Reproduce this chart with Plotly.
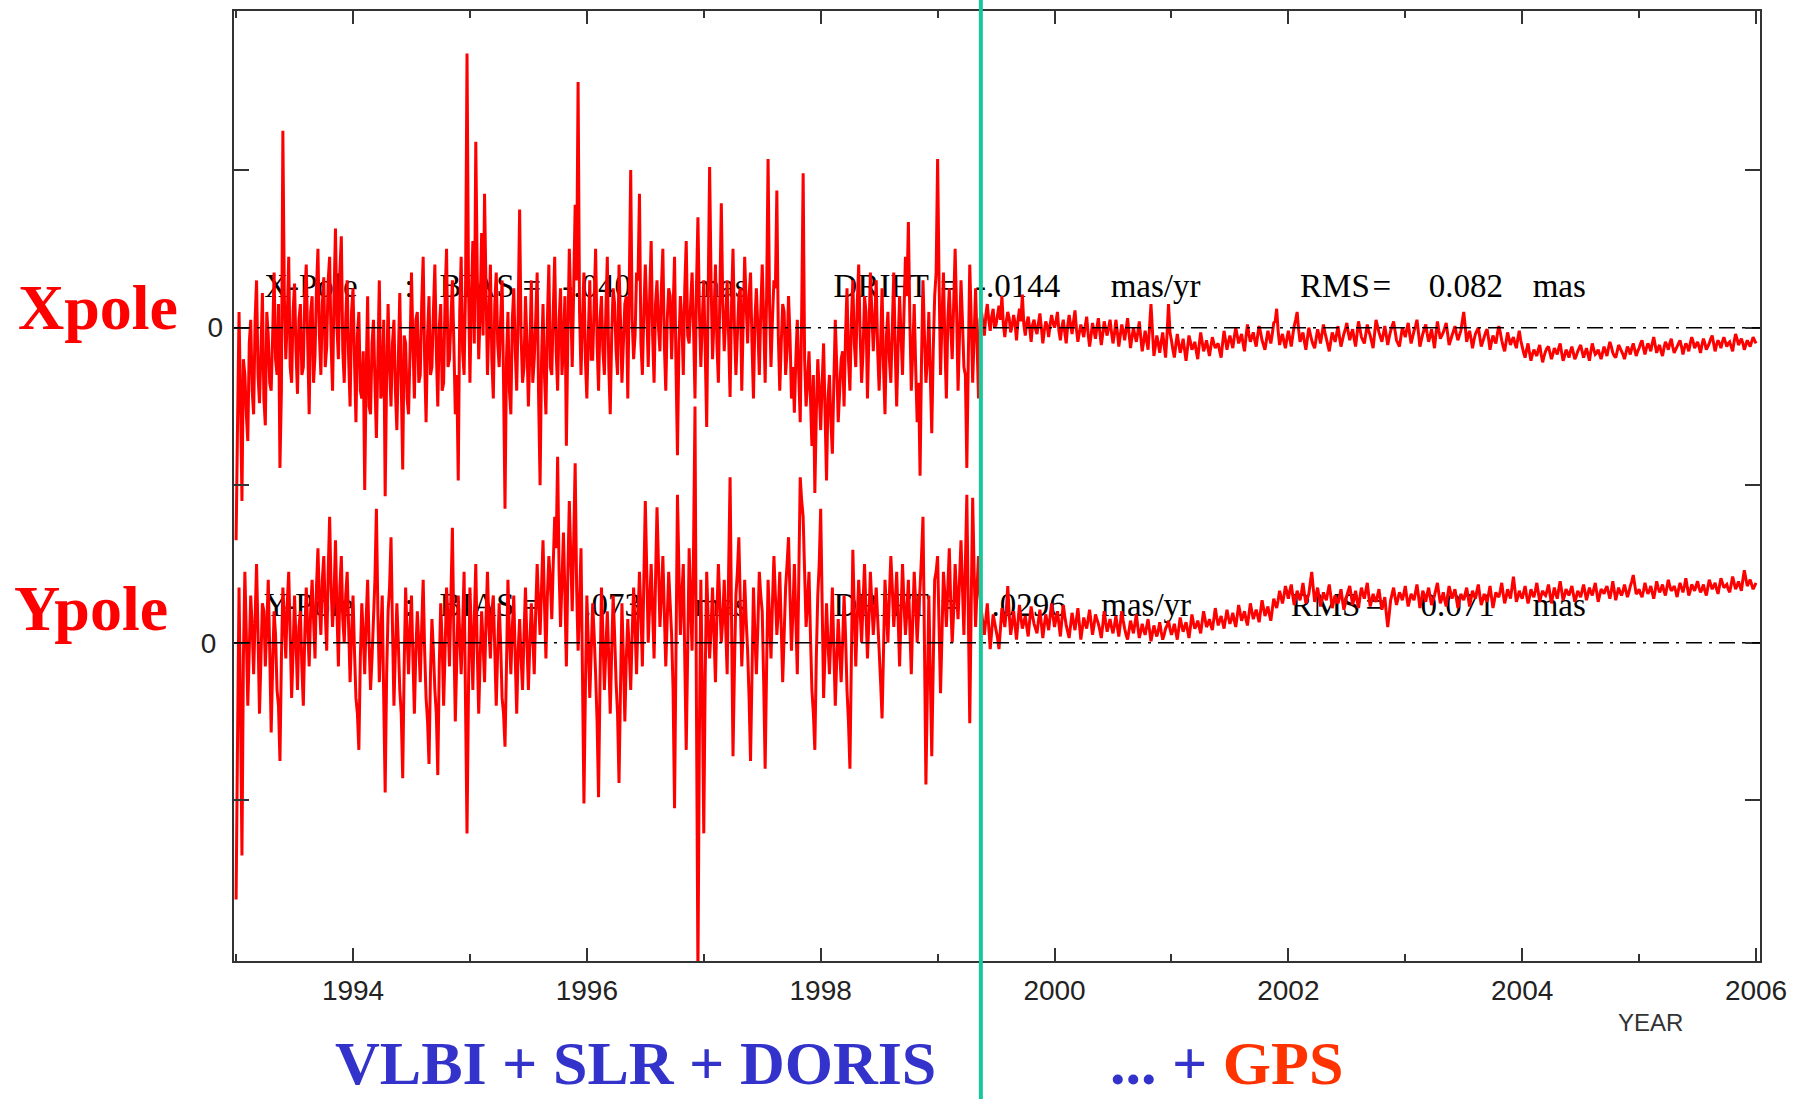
import plotly.graph_objects as go

# Pole residuals (mas). Main samples every 0.025 yr starting 1993.0, with an
# extra sample half-way between consecutive main samples.
T0 = 1993.0
DT = 0.025
GPS_START = 1999.37          # GPS enters the combination

# ---- X pole ---------------------------------------------------------------
x_pole_early = [  # 1993.000 - 1999.350 : VLBI + SLR + DORIS
    -1.35, 0.10, -1.10, -0.30, -0.72, 0.05, -0.55, 0.30, -0.48, 0.22, -0.62, -0.05, -0.40, 0.35, -0.30, -0.89, 1.25, -0.20, 0.45, -0.35,
    0.28, -0.42, 0.15, -0.25, 0.40, -0.55, 0.20, -0.18, 0.50, -0.30, 0.32, -0.12, 0.45, -0.40, 0.63, -0.20, 0.58, -0.35, 0.30, -0.50,
    0.25, -0.60, 0.10, -0.45, -1.03, 0.20, -0.55, 0.05, -0.70, 0.30, -0.40, -1.07, 0.15, -0.50, 0.05, -0.65, 0.22, -0.90, -0.10, -0.55,
    0.35, -0.45, 0.10, -0.30, 0.45, -0.60, 0.20, -0.25, 0.40, -0.50, 0.15, -0.35, 0.50, -0.20, 0.30, -0.55, -0.97, 0.45, -0.30, 1.74,
    -0.35, 0.55, 1.18, -0.20, 0.60, 0.85, -0.30, 0.40, -0.45, 0.35, -0.25, 0.30, -1.15, 0.10, -0.55, 0.25, -0.40, 0.75, -0.35, 0.20,
    -0.50, 0.30, -0.20, 0.35, -1.00, 0.15, -0.55, 0.40, -0.30, 0.45, -0.40, 0.25, -0.10, -0.75, 0.50, -0.25, 0.78, 1.56, -0.30, 0.35,
    -0.45, 0.30, -0.20, 0.50, -0.40, 0.20, -0.30, 0.45, -0.55, 0.25, -0.15, 0.40, -0.35, 0.15, -0.45, 1.00, -0.20, 0.35, 0.85, -0.30,
    0.40, -0.25, 0.55, -0.35, 0.30, -0.15, 0.50, -0.40, 0.25, -0.20, 0.45, -0.81, 0.20, -0.30, 0.55, -0.10, 0.35, -0.45, 0.70, -0.25,
    0.30, -0.63, 1.02, -0.20, 0.40, -0.35, 0.79, -0.15, 0.30, -0.44, 0.50, -0.30, 0.20, -0.40, 0.45, -0.10, 0.35, -0.45, 0.25, -0.30,
    0.40, -0.35, 1.07, -0.25, 0.30, 0.87, -0.40, 0.15, -0.30, 0.20, -0.45, -0.54, 0.05, -0.60, 0.98, -0.50, -0.15, -0.75, -1.05, -0.20,
    -0.65, -0.10, -0.97, -0.30, -0.80, 0.05, -0.60, -0.20, -0.50, 0.25, -0.40, 0.30, -0.25, 0.40, -0.35, 0.20, -0.45, 0.35, -0.15, 0.30,
    -0.40, 0.25, -0.55, 0.10, -0.35, 0.35, -0.50, 0.20, -0.30, 0.45, 0.67, -0.40, 0.15, -0.60, -0.94, 0.30, -0.35, 0.10, -0.67, 0.20,
    1.07, -0.30, 0.35, -0.45, 0.25, -0.20, 0.50, -0.40, 0.30, -0.25, -0.89, 0.40, -0.35, 0.25, -0.45,
]
x_pole_early_mid = [  # 1993.0125 - 1999.3625
    -0.60, -0.45, -0.20, -0.55, -0.10, -0.40, 0.05, -0.30, -0.15, -0.45, 0.10, -0.35, -0.05, -0.20, 0.15, -0.40, 0.20, 0.05, -0.25, 0.10,
    -0.15, 0.05, -0.30, 0.20, -0.10, 0.10, -0.35, 0.25, -0.05, 0.15, -0.25, 0.30, -0.10, 0.20, 0.00, 0.35, -0.15, 0.05, -0.20, 0.10,
    -0.20, -0.05, -0.40, -0.15, -0.30, -0.50, -0.10, -0.35, -0.20, -0.45, 0.05, -0.30, -0.25, -0.10, -0.40, -0.20, -0.35, -0.05, -0.45, -0.15,
    -0.10, 0.05, -0.35, 0.15, -0.20, -0.05, -0.30, 0.10, -0.15, 0.00, -0.40, 0.20, -0.25, 0.05, -0.10, -0.30, 0.10, -0.15, 0.25, 0.30,
    0.20, -0.10, 0.35, 0.10, -0.05, 0.25, 0.05, -0.20, 0.15, -0.10, 0.05, -0.35, -0.20, -0.40, 0.05, -0.15, 0.10, -0.05, -0.25, -0.10,
    -0.15, -0.35, 0.05, -0.45, -0.20, -0.30, 0.05, -0.25, 0.10, -0.15, 0.05, -0.30, 0.20, -0.05, 0.15, 0.25, 0.30, 0.10, 0.05, -0.20,
    -0.05, -0.20, 0.15, -0.10, 0.05, -0.15, 0.10, -0.25, -0.05, 0.15, -0.30, 0.05, -0.10, 0.20, 0.25, 0.05, -0.05, 0.30, -0.10, 0.10,
    0.10, 0.20, -0.05, 0.15, 0.00, 0.25, -0.10, 0.05, 0.20, 0.10, -0.25, -0.10, 0.05, 0.25, -0.05, 0.15, 0.00, 0.25, 0.10, 0.05,
    -0.15, 0.20, 0.30, 0.05, -0.10, 0.20, 0.15, 0.05, -0.05, 0.15, 0.00, -0.05, 0.25, 0.05, 0.15, 0.20, -0.10, 0.05, 0.00, 0.10,
    0.05, 0.20, 0.15, 0.05, 0.25, -0.05, -0.10, 0.10, -0.15, -0.05, -0.25, -0.20, -0.30, 0.10, -0.20, -0.35, -0.45, -0.30, -0.55, -0.40,
    -0.35, -0.55, -0.45, -0.60, -0.35, -0.25, -0.40, -0.15, -0.05, -0.20, 0.05, -0.10, 0.15, -0.05, -0.15, 0.10, -0.05, 0.10, 0.05, -0.15,
    -0.10, -0.25, -0.05, -0.20, 0.00, -0.15, -0.10, -0.05, 0.10, 0.20, 0.05, -0.15, -0.25, -0.35, -0.20, -0.05, -0.20, -0.30, -0.15, 0.35,
    0.30, 0.05, -0.10, 0.05, 0.00, 0.15, 0.10, -0.05, 0.05, -0.30, -0.20, 0.05, -0.05, -0.10, 0.05,
]
x_pole_gps = [  # 1999.375 - 2006.000 : ... + GPS
    0.10, -0.05, 0.15, -0.02, 0.12,
    0.02, 0.14, 0.20, -0.06, 0.10, -0.03, 0.08, -0.08, 0.12, 0.21, -0.05, 0.07, -0.09, 0.05, -0.04, 0.09, -0.10, 0.04, -0.06, 0.08,
    0.00, 0.10, -0.08, 0.05, -0.10, 0.08, -0.04, 0.11, -0.09, 0.02, -0.06, 0.07, -0.12, 0.03, -0.07, 0.06, -0.11, 0.04, -0.05, 0.05,
    -0.10, 0.05, -0.12, 0.02, -0.08, 0.06, -0.13, 0.00, -0.09, 0.04, -0.15, -0.02, -0.14, 0.15, -0.18, -0.05, -0.16, -0.03, -0.19, 0.15,
    -0.08, -0.19, -0.04, -0.16, -0.07, -0.21, -0.05, -0.14, -0.09, -0.20, -0.03, -0.15, -0.08, -0.18, -0.06, -0.13, -0.10, -0.19, -0.02, -0.14,
    -0.05, -0.13, 0.00, -0.10, -0.04, -0.15, 0.02, -0.09, -0.03, -0.12, 0.01, -0.08, -0.14, -0.02, -0.10, 0.03, 0.12, -0.11, -0.04, -0.13,
    -0.02, -0.12, 0.01, 0.10, -0.09, -0.03, -0.14, 0.00, -0.08, -0.13, -0.01, -0.10, 0.02, -0.07, -0.15, -0.03, -0.09, 0.01, -0.12, -0.04,
    0.03, -0.08, -0.01, -0.12, 0.04, -0.06, -0.10, 0.02, -0.05, -0.13, 0.05, -0.03, -0.09, 0.01, -0.11, -0.02, 0.04, -0.08, -0.12, 0.00,
    -0.06, 0.03, -0.10, -0.02, 0.05, -0.12, -0.04, 0.02, -0.09, -0.01, -0.13, 0.04, -0.07, -0.03, 0.03, -0.11, -0.05, 0.01, -0.08, -0.02,
    0.10, -0.09, -0.02, -0.13, -0.04, 0.00, -0.12, -0.06, -0.01, -0.14, -0.05, -0.10, 0.01, -0.08, -0.15, -0.03, -0.11, -0.06, -0.13, -0.02,
    -0.12, -0.19, -0.10, -0.21, -0.14, -0.18, -0.11, -0.22, -0.15, -0.12, -0.20, -0.13, -0.17, -0.10, -0.21, -0.14, -0.19, -0.12, -0.20, -0.15,
    -0.11, -0.19, -0.13, -0.21, -0.10, -0.17, -0.14, -0.20, -0.12, -0.18, -0.09, -0.16, -0.19, -0.11, -0.15, -0.20, -0.12, -0.17, -0.10, -0.18,
    -0.13, -0.08, -0.17, -0.10, -0.15, -0.06, -0.16, -0.11, -0.18, -0.09, -0.14, -0.07, -0.16, -0.12, -0.08, -0.17, -0.10, -0.15, -0.06, -0.13,
    -0.09, -0.16, -0.07, -0.14, -0.10, -0.05, -0.15, -0.08, -0.13, -0.06, -0.12, -0.09, -0.15, -0.04, -0.11, -0.07, -0.14, -0.08, -0.12, -0.06,
    -0.10,
]
x_pole_gps_mid = [  # 1999.3875 - 2005.9875
    0.03, 0.08, 0.05, 0.07, 0.00,
    0.08, 0.05, 0.02, 0.04, 0.06, 0.01, 0.03, 0.05, 0.04, 0.02, 0.03, 0.00, 0.02, -0.01, 0.03, 0.00, -0.02, 0.01, 0.02, 0.03,
    0.04, -0.02, 0.00, -0.03, 0.01, 0.02, 0.04, -0.01, -0.03, -0.02, 0.01, -0.04, -0.05, -0.02, 0.00, -0.03, -0.04, -0.01, 0.00, -0.03,
    -0.04, -0.03, -0.05, -0.02, -0.01, -0.04, -0.06, -0.05, -0.03, -0.06, -0.09, -0.08, 0.00, -0.02, -0.12, -0.10, -0.09, -0.11, -0.04, -0.03,
    -0.14, -0.11, -0.10, -0.12, -0.14, -0.13, -0.09, -0.12, -0.15, -0.11, -0.09, -0.12, -0.13, -0.12, -0.10, -0.11, -0.15, -0.10, -0.08, -0.09,
    -0.09, -0.06, -0.05, -0.07, -0.10, -0.06, -0.04, -0.06, -0.08, -0.05, -0.03, -0.11, -0.08, -0.06, -0.04, 0.04, -0.02, -0.07, -0.09, -0.07,
    -0.07, -0.05, 0.05, -0.01, -0.06, -0.09, -0.07, -0.04, -0.11, -0.07, -0.05, -0.04, -0.03, -0.11, -0.09, -0.06, -0.04, -0.06, -0.08, -0.01,
    -0.03, -0.04, -0.07, -0.04, -0.01, -0.08, -0.04, -0.02, -0.09, -0.04, 0.01, -0.06, -0.04, -0.05, -0.06, 0.01, -0.02, -0.10, -0.06, -0.03,
    -0.01, -0.04, -0.06, 0.01, -0.03, -0.08, -0.01, -0.04, -0.05, -0.07, -0.04, -0.02, -0.05, 0.00, -0.04, -0.08, -0.02, -0.04, -0.05, 0.04,
    0.01, -0.05, -0.07, -0.08, -0.02, -0.06, -0.09, -0.03, -0.07, -0.09, -0.08, -0.04, -0.03, -0.12, -0.09, -0.07, -0.08, -0.10, -0.07, -0.08,
    -0.16, -0.14, -0.16, -0.17, -0.16, -0.14, -0.17, -0.18, -0.13, -0.16, -0.17, -0.15, -0.13, -0.16, -0.18, -0.16, -0.15, -0.16, -0.18, -0.13,
    -0.15, -0.16, -0.17, -0.15, -0.14, -0.16, -0.17, -0.16, -0.15, -0.13, -0.12, -0.18, -0.15, -0.13, -0.17, -0.16, -0.14, -0.13, -0.14, -0.15,
    -0.10, -0.13, -0.13, -0.12, -0.10, -0.11, -0.13, -0.15, -0.13, -0.11, -0.10, -0.12, -0.14, -0.10, -0.12, -0.13, -0.12, -0.10, -0.09, -0.11,
    -0.12, -0.11, -0.10, -0.12, -0.07, -0.10, -0.11, -0.10, -0.09, -0.09, -0.10, -0.12, -0.09, -0.07, -0.09, -0.10, -0.11, -0.10, -0.09, -0.08,
]

# ---- Y pole ---------------------------------------------------------------
y_pole_early = [  # 1993.000 - 1999.350
    -1.63, 0.35, -1.35, 0.45, -0.40, 0.30, -0.20, 0.50, -0.45, 0.25, -0.15, 0.40, -0.57, 0.20, -0.30, -0.75, 0.35, -0.10, 0.45, -0.35,
    0.30, -0.30, 0.20, -0.40, 0.35, -0.15, 0.40, -0.10, 0.60, 0.05, 0.55, -0.05, 0.80, 0.10, 0.65, -0.15, 0.55, 0.00, 0.45, -0.25,
    0.30, -0.35, -0.68, 0.25, -0.20, 0.40, -0.30, 0.15, 0.85, -0.25, 0.30, -0.95, 0.20, 0.67, -0.40, 0.25, -0.30, -0.86, 0.35, -0.20,
    0.30, -0.45, 0.20, -0.25, 0.40, -0.35, -0.77, 0.15, -0.30, -0.84, 0.25, -0.40, 0.35, -0.15, 0.73, -0.50, 0.30, -0.20, 0.45, -1.21,
    0.35, -0.30, 0.50, -0.45, 0.20, -0.25, 0.45, -0.10, 0.30, -0.40, 0.25, -0.35, -0.66, 0.40, -0.20, 0.30, -0.45, 0.15, -0.30, 0.35,
    -0.30, 0.25, -0.20, 0.50, 0.05, 0.65, -0.10, 0.55, 0.15, 0.80, 1.18, 0.10, 0.70, -0.15, 0.90, 0.20, 1.14, -0.05, 0.60, -1.02,
    0.30, -0.35, 0.25, -0.20, -0.98, 0.35, -0.30, 0.20, -0.45, 0.30, -0.25, -0.89, 0.25, -0.50, 0.15, -0.30, 0.35, -0.20, 0.45, -0.15,
    0.90, 0.00, 0.50, -0.10, 0.86, 0.10, 0.55, -0.15, 0.45, 0.05, -1.05, 0.94, 0.05, 0.50, -0.68, 0.60, -0.05, 1.50, -2.10, 0.40,
    -1.21, 0.45, -0.10, 0.35, -0.25, 0.50, 0.00, 0.40, -0.20, 1.05, -0.72, 0.30, 0.67, -0.15, 0.40, -0.05, -0.75, 0.35, -0.20, 0.45,
    0.20, -0.80, 0.40, -0.10, 0.55, 0.05, 0.45, -0.25, 0.35, 0.67, -0.05, 0.50, -0.20, 1.05, 0.80, 0.10, 0.45, -0.30, -0.68, 0.30,
    0.85, -0.35, 0.25, -0.20, 0.35, -0.40, 0.15, -0.25, 0.30, -0.30, -0.80, 0.59, -0.15, 0.40, 0.00, 0.50, -0.10, 0.45, 0.05, 0.35,
    -0.05, -0.48, 0.40, 0.00, 0.55, 0.10, 0.45, -0.15, 0.50, 0.05, 0.40, -0.20, 0.45, 0.00, 0.35, 0.80, -0.90, 0.30, -0.72, 0.40,
    0.55, -0.32, 0.45, 0.10, 0.60, 0.00, 0.50, 0.15, 0.65, 0.05, 0.94, -0.51, 0.92, 0.10, 0.55,
]
y_pole_early_mid = [  # 1993.0125 - 1999.3625
    -0.60, -0.40, -0.10, 0.05, -0.05, 0.10, 0.15, 0.05, -0.10, 0.20, 0.10, -0.05, -0.15, 0.05, -0.40, -0.10, 0.15, 0.25, 0.05, -0.05,
    0.00, 0.10, -0.15, 0.05, 0.10, 0.20, 0.15, 0.35, 0.25, 0.40, 0.20, 0.45, 0.35, 0.30, 0.20, 0.35, 0.15, 0.30, 0.10, 0.05,
    -0.05, -0.45, -0.10, 0.05, 0.15, 0.00, -0.10, 0.40, 0.20, 0.05, -0.35, -0.20, 0.35, 0.10, -0.05, 0.00, -0.45, -0.15, 0.05, 0.10,
    -0.10, -0.05, 0.00, 0.10, -0.05, -0.50, -0.20, -0.05, -0.45, -0.15, 0.00, -0.05, 0.15, 0.30, 0.05, -0.10, 0.05, 0.10, -0.40, -0.30,
    0.05, 0.15, -0.05, -0.10, 0.00, 0.15, 0.10, 0.20, -0.05, -0.05, 0.00, -0.45, -0.15, 0.05, 0.10, -0.10, -0.05, -0.10, 0.05, 0.00,
    0.00, 0.05, 0.20, 0.25, 0.35, 0.25, 0.30, 0.40, 0.50, 0.60, 0.45, 0.40, 0.30, 0.45, 0.55, 0.65, 0.35, 0.25, -0.20, -0.30,
    0.00, -0.05, 0.05, -0.50, -0.25, 0.05, -0.05, -0.10, -0.05, 0.05, -0.45, -0.30, -0.10, -0.10, -0.05, 0.05, 0.10, 0.15, 0.20, 0.40,
    0.45, 0.25, 0.20, 0.40, 0.50, 0.30, 0.20, 0.15, 0.25, -0.30, -0.05, 0.45, 0.30, -0.10, -0.05, 0.25, 0.60, -0.40, -0.60, -0.30,
    -0.20, 0.15, 0.10, 0.05, 0.20, 0.25, 0.15, 0.10, 0.45, 0.15, -0.15, 0.45, 0.25, 0.10, 0.15, -0.35, -0.20, 0.05, 0.10, 0.30,
    -0.25, -0.15, 0.15, 0.25, 0.30, 0.20, 0.10, 0.05, 0.50, 0.30, 0.20, 0.15, 0.40, 0.90, 0.45, 0.25, 0.05, -0.45, -0.10, 0.50,
    0.25, -0.05, 0.00, 0.05, -0.05, -0.10, -0.05, 0.00, 0.05, -0.50, -0.10, 0.20, 0.15, 0.20, 0.25, 0.20, 0.15, 0.25, 0.20, 0.15,
    -0.25, -0.05, 0.20, 0.30, 0.35, 0.25, 0.15, 0.20, 0.25, 0.20, 0.10, 0.15, 0.25, 0.20, 0.55, 0.00, -0.30, -0.20, -0.15, 0.45,
    0.10, 0.05, 0.30, 0.35, 0.25, 0.20, 0.30, 0.40, 0.35, 0.50, 0.20, 0.25, 0.45, 0.35, 0.30,
]
y_pole_gps = [  # 1999.375 - 2006.000
    0.20, 0.05, 0.25, -0.04, 0.18,
    0.08, -0.04, 0.22, 0.10, 0.36, 0.05, 0.20, 0.02, 0.24, 0.09, 0.17, 0.04, 0.23, 0.12, 0.06, 0.21, 0.03, 0.18, 0.08, 0.25,
    0.10, 0.20, 0.04, 0.24, 0.11, 0.03, 0.19, 0.08, 0.22, 0.02, 0.16, 0.09, 0.21, 0.05, 0.18, 0.12, 0.03, 0.20, 0.07, 0.15,
    0.06, 0.17, 0.04, 0.20, 0.09, 0.02, 0.14, 0.06, 0.18, 0.03, 0.12, 0.05, 0.15, 0.01, 0.11, 0.04, 0.13, 0.02, 0.09, 0.14,
    0.05, 0.12, 0.02, 0.16, 0.07, 0.13, 0.03, 0.18, 0.09, 0.14, 0.06, 0.20, 0.10, 0.15, 0.08, 0.22, 0.11, 0.17, 0.09, 0.21,
    0.12, 0.19, 0.10, 0.24, 0.14, 0.20, 0.11, 0.25, 0.15, 0.21, 0.13, 0.27, 0.17, 0.23, 0.14, 0.28, 0.22, 0.33, 0.25, 0.36,
    0.28, 0.37, 0.24, 0.33, 0.27, 0.38, 0.25, 0.31, 0.45, 0.26, 0.35, 0.23, 0.32, 0.27, 0.37, 0.22, 0.30, 0.25, 0.34, 0.21,
    0.30, 0.36, 0.24, 0.33, 0.22, 0.35, 0.28, 0.38, 0.23, 0.31, 0.26, 0.34, 0.21, 0.29, 0.10, 0.27, 0.35, 0.24, 0.32, 0.27,
    0.36, 0.23, 0.31, 0.27, 0.37, 0.22, 0.33, 0.26, 0.35, 0.24, 0.30, 0.38, 0.25, 0.32, 0.23, 0.36, 0.28, 0.34, 0.22, 0.31,
    0.27, 0.35, 0.23, 0.33, 0.28, 0.37, 0.24, 0.31, 0.26, 0.36, 0.22, 0.32, 0.29, 0.38, 0.25, 0.34, 0.28, 0.42, 0.26, 0.33,
    0.28, 0.36, 0.25, 0.34, 0.29, 0.38, 0.26, 0.33, 0.30, 0.37, 0.25, 0.35, 0.28, 0.39, 0.27, 0.34, 0.30, 0.36, 0.26, 0.33,
    0.29, 0.37, 0.27, 0.35, 0.30, 0.38, 0.26, 0.34, 0.31, 0.36, 0.28, 0.39, 0.27, 0.35, 0.30, 0.37, 0.29, 0.36, 0.43, 0.31,
    0.34, 0.29, 0.38, 0.31, 0.36, 0.28, 0.39, 0.32, 0.37, 0.30, 0.40, 0.33, 0.36, 0.29, 0.38, 0.32, 0.41, 0.30, 0.37, 0.33,
    0.39, 0.32, 0.37, 0.30, 0.40, 0.34, 0.38, 0.31, 0.41, 0.35, 0.37, 0.32, 0.42, 0.34, 0.39, 0.33, 0.46, 0.36, 0.40, 0.34,
    0.38,
]
y_pole_gps_mid = [  # 1999.3875 - 2005.9875
    0.12, 0.15, 0.10, 0.07, 0.13,
    0.03, 0.09, 0.16, 0.20, 0.18, 0.12, 0.11, 0.13, 0.16, 0.13, 0.10, 0.14, 0.17, 0.09, 0.14, 0.12, 0.11, 0.13, 0.17, 0.17,
    0.15, 0.12, 0.14, 0.17, 0.07, 0.11, 0.13, 0.15, 0.12, 0.09, 0.12, 0.15, 0.13, 0.11, 0.15, 0.08, 0.11, 0.13, 0.11, 0.10,
    0.11, 0.10, 0.12, 0.14, 0.05, 0.08, 0.10, 0.12, 0.10, 0.07, 0.08, 0.10, 0.08, 0.06, 0.07, 0.08, 0.07, 0.05, 0.11, 0.09,
    0.08, 0.07, 0.09, 0.11, 0.10, 0.08, 0.10, 0.13, 0.11, 0.10, 0.13, 0.15, 0.12, 0.11, 0.15, 0.16, 0.14, 0.13, 0.15, 0.16,
    0.15, 0.14, 0.17, 0.19, 0.17, 0.15, 0.18, 0.20, 0.18, 0.17, 0.20, 0.22, 0.20, 0.18, 0.21, 0.25, 0.27, 0.29, 0.30, 0.32,
    0.33, 0.30, 0.28, 0.30, 0.32, 0.31, 0.28, 0.38, 0.35, 0.30, 0.29, 0.27, 0.29, 0.32, 0.30, 0.26, 0.27, 0.29, 0.27, 0.25,
    0.33, 0.30, 0.28, 0.27, 0.29, 0.31, 0.33, 0.30, 0.27, 0.28, 0.30, 0.27, 0.25, 0.19, 0.18, 0.31, 0.29, 0.28, 0.30, 0.31,
    0.29, 0.27, 0.29, 0.32, 0.30, 0.27, 0.30, 0.31, 0.29, 0.27, 0.34, 0.31, 0.28, 0.27, 0.30, 0.32, 0.31, 0.28, 0.26, 0.29,
    0.31, 0.29, 0.28, 0.30, 0.33, 0.30, 0.27, 0.28, 0.31, 0.29, 0.27, 0.30, 0.33, 0.31, 0.29, 0.31, 0.35, 0.34, 0.29, 0.30,
    0.32, 0.30, 0.29, 0.31, 0.33, 0.32, 0.30, 0.31, 0.33, 0.31, 0.30, 0.31, 0.34, 0.33, 0.30, 0.32, 0.33, 0.31, 0.29, 0.31,
    0.33, 0.32, 0.31, 0.32, 0.34, 0.32, 0.30, 0.33, 0.34, 0.32, 0.33, 0.33, 0.31, 0.32, 0.33, 0.33, 0.32, 0.39, 0.37, 0.32,
    0.31, 0.33, 0.34, 0.33, 0.32, 0.33, 0.35, 0.34, 0.33, 0.35, 0.36, 0.34, 0.33, 0.34, 0.35, 0.36, 0.35, 0.33, 0.35, 0.36,
    0.35, 0.34, 0.33, 0.35, 0.37, 0.36, 0.34, 0.36, 0.38, 0.36, 0.34, 0.37, 0.38, 0.36, 0.36, 0.40, 0.41, 0.38, 0.37, 0.36,
]

# ---- statistics printed inside the frame ---------------------------------
x_stat_words = ["X-Pole", ":", "BIAS", "=", "-.040", "mas", "DRIFT", "=", "-.0144", "mas/yr",
                "RMS", "=", "0.082", "mas"]
x_stat_at = [1993.24, 1994.44, 1994.74, 1995.45, 1995.79, 1996.92, 1998.11, 1999.02, 1999.32, 2000.48,
             2002.10, 2002.72, 2003.20, 2004.09]
y_stat_words = ["Y-Pole", ":", "BIAS", "=", ".073", "mas", "DRIFT", "=", ".0296", "mas/yr",
                "RMS", "=", "0.071", "mas"]
y_stat_at = [1993.24, 1994.44, 1994.74, 1995.45, 1995.97, 1996.92, 1998.11, 1999.02, 1999.46, 2000.40,
             2002.02, 2002.66, 2003.13, 2004.09]

year_ticks = [1994, 1996, 1998, 2000, 2002, 2004, 2006]
X_RANGE = [1992.982, 2006.034]
Y_RANGE = [-2.02, 4.01]          # y-pole panel, zero at the lower dash-dot line
Y2_RANGE = [-4.02, 2.01]         # x-pole panel, zero at the upper dash-dot line


def epoch_series(main, mid, first_index):
    """Pair each main sample with its epoch and slot the half-step samples between."""
    ts, vs = [], []
    for k, v in enumerate(main):
        t = T0 + DT * (first_index + k)
        ts.append(round(t, 4))
        vs.append(v)
        if k < len(mid):
            ts.append(round(t + DT / 2, 4))
            vs.append(mid[k])
    return ts, vs


n_early = len(x_pole_early)
tx1, vx1 = epoch_series(x_pole_early, x_pole_early_mid, 0)
tx2, vx2 = epoch_series(x_pole_gps, x_pole_gps_mid, n_early)
ty1, vy1 = epoch_series(y_pole_early, y_pole_early_mid, 0)
ty2, vy2 = epoch_series(y_pole_gps, y_pole_gps_mid, n_early)

AXIS_COLOR = "#333333"
SERIF = "Liberation Serif, Times New Roman, serif"
SANS = "Liberation Sans, Arial, sans-serif"

fig = go.Figure()

# statistics lines go in first so the residual curves are drawn over them
stat_font = dict(family=SERIF, size=33, color="black")
fig.add_trace(go.Scatter(x=x_stat_at, y=[0.25] * len(x_stat_at), yaxis="y2", mode="text",
                         text=x_stat_words, textposition="middle right", textfont=stat_font,
                         hoverinfo="skip", showlegend=False))
fig.add_trace(go.Scatter(x=y_stat_at, y=[0.22] * len(y_stat_at), yaxis="y", mode="text",
                         text=y_stat_words, textposition="middle right", textfont=stat_font,
                         hoverinfo="skip", showlegend=False))

curve = dict(color="#ff0000", width=3.0, simplify=False)
fig.add_trace(go.Scatter(x=tx1 + tx2, y=vx1 + vx2, yaxis="y2", mode="lines", line=curve,
                         name="Xpole", showlegend=False))
fig.add_trace(go.Scatter(x=ty1 + ty2, y=vy1 + vy2, yaxis="y", mode="lines", line=curve,
                         name="Ypole", showlegend=False))

# zero reference lines (dash-dot) for each component
zero_line = dict(color="black", width=1.5, dash="16px,7px,3px,7px")
fig.add_shape(type="line", xref="paper", x0=0, x1=1, yref="y", y0=0, y1=0, line=zero_line)
fig.add_shape(type="line", xref="paper", x0=0, x1=1, yref="y2", y0=0, y1=0, line=zero_line)

# start of the GPS contribution
fig.add_shape(type="line", xref="x", x0=GPS_START, x1=GPS_START, yref="paper", y0=-0.16, y1=1.03,
              line=dict(color="#16c89a", width=4))

fig.update_layout(
    width=1813, height=1099,
    margin=dict(l=234, r=53, t=9, b=138, pad=0),
    paper_bgcolor="white", plot_bgcolor="white",
    showlegend=False,
    xaxis=dict(
        range=X_RANGE, tickvals=year_ticks, ticktext=[str(y) for y in year_ticks],
        ticks="inside", ticklen=13, tickwidth=2, tickcolor=AXIS_COLOR,
        showline=True, linewidth=2, linecolor=AXIS_COLOR, mirror="ticks",
        showgrid=False, zeroline=False, ticklabelstandoff=3,
        tickfont=dict(family=SANS, size=28, color="#222222"),
        minor=dict(dtick=1, tick0=1993, ticks="inside", ticklen=7, tickwidth=2,
                   tickcolor=AXIS_COLOR, showgrid=False),
    ),
    yaxis=dict(
        range=Y_RANGE, tickvals=[-1, 0, 1, 2, 3], ticktext=["", "0", "", "", ""],
        ticks="inside", ticklen=15, tickwidth=2, tickcolor=AXIS_COLOR,
        showline=True, linewidth=2, linecolor=AXIS_COLOR, mirror="ticks",
        showgrid=False, zeroline=False, ticklabelstandoff=10,
        tickfont=dict(family=SANS, size=28, color="#222222"),
    ),
    yaxis2=dict(
        range=Y2_RANGE, overlaying="y", side="left", tickvals=[0], ticktext=["0"],
        ticks="", showline=False, showgrid=False, zeroline=False, ticklabelstandoff=10,
        tickfont=dict(family=SANS, size=28, color="#222222"),
    ),
    annotations=[
        dict(text="<b>Xpole</b>", xref="paper", x=-0.089, yref="y2", y=0.13,
             showarrow=False, xanchor="center", yanchor="middle",
             font=dict(family=SERIF, size=64, color="#ff0000")),
        dict(text="<b>Ypole</b>", xref="paper", x=-0.094, yref="y", y=0.215,
             showarrow=False, xanchor="center", yanchor="middle",
             font=dict(family=SERIF, size=64, color="#ff0000")),
        dict(text="YEAR", xref="paper", x=0.928, yref="paper", y=-0.065,
             showarrow=False, xanchor="center", yanchor="middle",
             font=dict(family=SANS, size=24, color="#333333")),
        dict(text="<b>VLBI + SLR + DORIS</b>", xref="paper", x=0.263, yref="paper", y=-0.107,
             showarrow=False, xanchor="center", yanchor="middle",
             font=dict(family=SERIF, size=62, color="#3333cc")),
        dict(text="<b><span style='color:#3333cc'>... +</span> <span style='color:#ff3300'>GPS</span></b>",
             xref="paper", x=0.6507, yref="paper", y=-0.107,
             showarrow=False, xanchor="center", yanchor="middle",
             font=dict(family=SERIF, size=62, color="#3333cc")),
    ],
)

fig.write_html("out.html")
